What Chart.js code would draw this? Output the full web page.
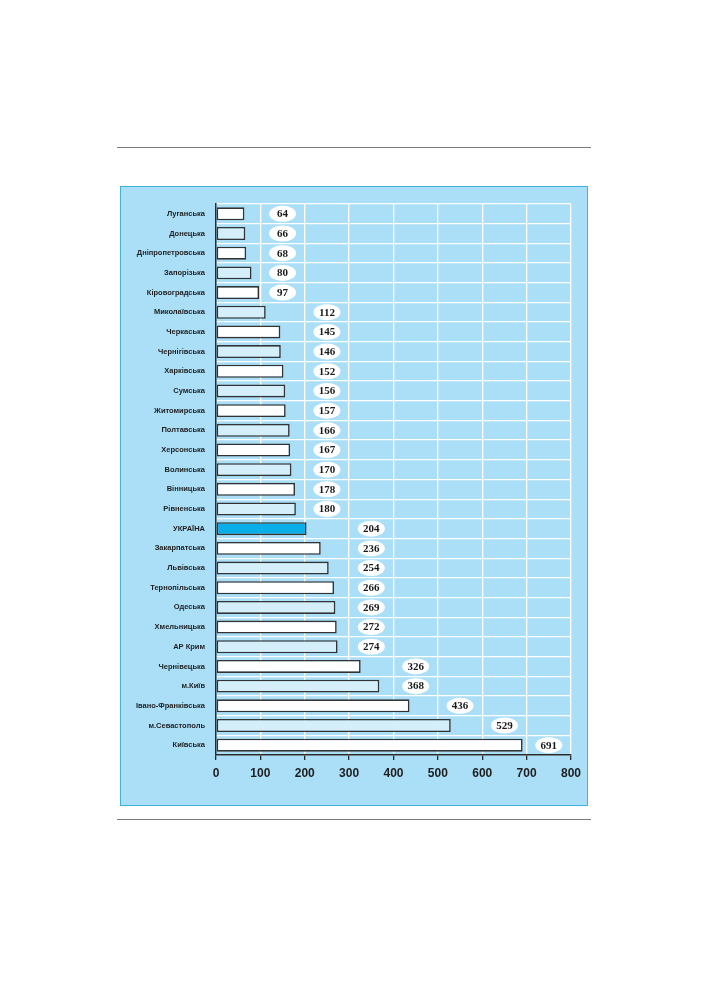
<!DOCTYPE html>
<html>
<head>
<meta charset="utf-8">
<script src="https://cdn.jsdelivr.net/npm/chart.js@4"></script>
<style>
  body { margin: 0; background: #fff; }
  .rule { position: absolute; left: 117px; width: 474px; height: 1px; background: #7a7a7a; }
  .box { position: absolute; left: 120px; top: 186px; width: 466px; height: 618px;
         background: #aadff7; border: 1px solid #3fb3de; }
  .box canvas { position: absolute; left: 0; top: 0; }
</style>
</head>
<body>
<div class="rule" style="top:147px"></div>
<div class="box"><canvas id="chart" width="466" height="618"></canvas></div>
<div class="rule" style="top:819px"></div>

<script>
// regions, sorted as in the source table
const regions = ['Луганська','Донецька','Дніпропетровська','Запорізька','Кіровоградська',
  'Миколаївська','Черкаська','Чернігівська','Харківська','Сумська','Житомирська',
  'Полтавська','Херсонська','Волинська','Вінницька','Рівненська','УКРАЇНА',
  'Закарпатська','Львівська','Тернопільська','Одеська','Хмельницька','АР Крим',
  'Чернівецька','м.Київ','Івано-Франківська','м.Севастополь','Київська'];
const values = [64,66,68,80,97,112,145,146,152,156,157,166,167,170,178,180,204,
  236,254,266,269,272,274,326,368,436,529,691];
const xTicks = [0,100,200,300,400,500,600,700,800];

// white / light blue alternate, Ukraine total in bright blue
let k = 0;
const barColors = regions.map(r => {
  if (r === 'УКРАЇНА') return '#0aaee8';
  return (k++ % 2 === 0) ? '#ffffff' : '#d4eefa';
});

// white oval with the value, one grid cell past the bar end
const valueOvals = {
  id: 'valueOvals',
  afterDatasetsDraw(chart) {
    const ctx = chart.ctx;
    const xs = chart.scales.x;
    const meta = chart.getDatasetMeta(0);
    ctx.save();
    ctx.font = 'bold 11px "Liberation Serif", "DejaVu Serif", serif';
    ctx.textAlign = 'center';
    ctx.textBaseline = 'middle';
    meta.data.forEach((bar, i) => {
      const v = values[i];
      const cx = xs.getPixelForValue(Math.floor(v / 100) * 100 + 150);
      const cy = bar.y;
      ctx.beginPath();
      ctx.ellipse(cx, cy, 13.5, 8, 0, 0, Math.PI * 2);
      ctx.fillStyle = '#ffffff';
      ctx.fill();
      ctx.fillStyle = '#1a1a1a';
      ctx.fillText(v, cx, cy + 0.5);
    });
    ctx.restore();
  }
};

new Chart(document.getElementById('chart'), {
  type: 'bar',
  data: {
    labels: regions,
    datasets: [{
      data: values,
      backgroundColor: barColors,
      borderColor: '#333333',
      borderWidth: 1.6,
      borderSkipped: false,
      barPercentage: 0.66,
      categoryPercentage: 1
    }]
  },
  options: {
    indexAxis: 'y',
    responsive: false,
    animation: false,
    layout: { padding: { top: 17, right: 16, left: 0, bottom: 0 } },
    plugins: { legend: { display: false }, tooltip: { enabled: false } },
    scales: {
      x: {
        min: 0, max: 800,
        afterBuildTicks: s => { s.ticks = xTicks.map(v => ({ value: v })); },
        afterFit: s => { s.height = 50; },
        grid: { color: '#ffffff', lineWidth: 1.3, tickColor: '#2a2a2a', tickLength: 5 },
        border: { color: '#2a2a2a', width: 1.5 },
        ticks: { color: '#1e1e1e', padding: 6,
                 font: { family: '"Liberation Sans", Arial, sans-serif', size: 12, weight: 'bold' } }
      },
      y: {
        afterFit: s => { s.width = 95; },
        grid: { color: '#ffffff', lineWidth: 1.3, offset: true, drawTicks: false },
        border: { color: '#2a2a2a', width: 1.5 },
        ticks: { color: '#1e1e1e', padding: 11, autoSkip: false,
                 font: { family: '"Liberation Sans", Arial, sans-serif', size: 7.5, weight: 'bold' } }
      }
    }
  },
  plugins: [valueOvals]
});
</script>
</body>
</html>
